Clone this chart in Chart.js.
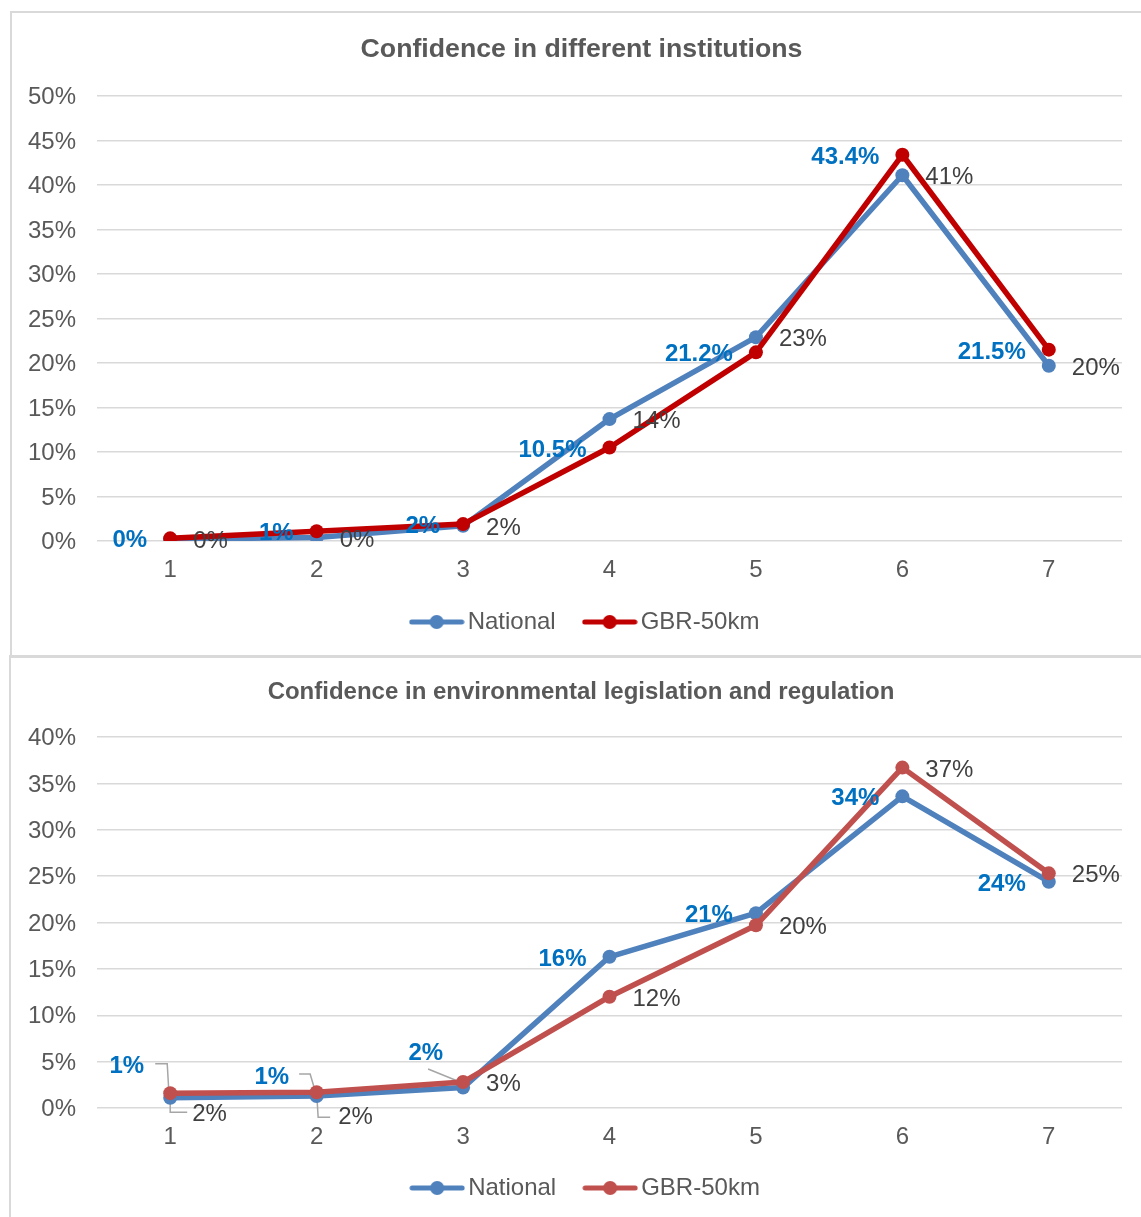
<!DOCTYPE html>
<html>
<head>
<meta charset="utf-8">
<script src="https://cdn.jsdelivr.net/npm/chart.js@4/dist/chart.umd.min.js"></script>
<style>
  html, body { margin: 0; padding: 0; background: #ffffff; }
  body { position: relative; width: 1141px; height: 1217px; overflow: hidden; }
  .frame { position: absolute; border: 2px solid #D9D9D9; box-sizing: border-box; }
  canvas { position: absolute; }
</style>
</head>
<body>
<div class="frame" style="left:10px; top:11px; width:1200px; height:647px;"></div>
<div class="frame" style="left:9px; top:655px; width:1200px; height:620px;"></div>
<canvas id="institutions" width="1145" height="644" style="left:11px; top:12px;"></canvas>
<canvas id="legislation" width="1146" height="566" style="left:10px; top:657px;"></canvas>
<script>
// ---- data ----
const categories = ['1', '2', '3', '4', '5', '6', '7'];
const seriesNames = ['National', 'GBR-50km'];

// Confidence in different institutions (% of respondents)
const institutionsNational = [0.2, 0.4, 1.7, 13.7, 22.9, 41.1, 19.7];
const institutionsGbr = [0.3, 1.1, 1.9, 10.5, 21.2, 43.4, 21.5];
const institutionsGbrDecimals = [0, 0, 0, 1, 1, 1, 1];
const institutionsAxis = { max: 50, step: 5 };

// Confidence in environmental legislation and regulation (% of respondents)
const legislationNational = [1.1, 1.3, 2.2, 16.3, 21.0, 33.6, 24.4];
const legislationGbr = [1.6, 1.7, 2.8, 12.0, 19.7, 36.7, 25.3];
const legislationAxis = { max: 40, step: 5 };

// ---- styling ----
const FONT = '"Liberation Sans", Arial, Helvetica, sans-serif';
const AXIS_TEXT = '#595959';
const GRID = '#D9D9D9';
const BLUE_LINE = '#4F81BD';
const LABEL_BLUE = '#0070C0';
const LABEL_GREY = '#404040';
const LEADER = '#A6A6A6';

function legendMarker(color) {
  const c = document.createElement('canvas');
  c.width = 56; c.height = 16;
  const g = c.getContext('2d');
  g.strokeStyle = color; g.lineWidth = 5; g.lineCap = 'round';
  g.beginPath(); g.moveTo(3, 8); g.lineTo(53, 8); g.stroke();
  g.fillStyle = color;
  g.beginPath(); g.arc(28, 8, 7, 0, Math.PI * 2); g.fill();
  return c;
}

// value labels next to each point, with optional leader lines
const pointLabels = {
  id: 'pointLabels',
  beforeDatasetsDraw(chart) {
    const ctx = chart.ctx;
    chart.data.datasets.forEach((ds, di) => {
      const st = ds.labelStyle;
      if (!st || !st.leaders) return;
      const meta = chart.getDatasetMeta(di);
      Object.keys(st.leaders).forEach(k => {
        const pt = meta.data[+k];
        const path = st.leaders[k];
        ctx.save();
        ctx.strokeStyle = LEADER;
        ctx.lineWidth = 1.5;
        ctx.beginPath();
        path.forEach((p, j) => {
          const x = pt.x + p[0], y = pt.y + p[1];
          if (j === 0) ctx.moveTo(x, y); else ctx.lineTo(x, y);
        });
        ctx.stroke();
        ctx.restore();
      });
    });
  },
  afterDatasetsDraw(chart) {
    const ctx = chart.ctx;
    chart.data.datasets.forEach((ds, di) => {
      const st = ds.labelStyle;
      if (!st) return;
      const meta = chart.getDatasetMeta(di);
      meta.data.forEach((pt, i) => {
        const v = ds.data[i];
        const dec = st.decimals ? st.decimals[i] : 0;
        const text = v.toFixed(dec) + '%';
        const off = (st.offsets && st.offsets[i]) || [0, 0];
        ctx.save();
        ctx.font = (st.bold ? 'bold ' : '') + '24px ' + FONT;
        ctx.fillStyle = st.color;
        ctx.textBaseline = 'middle';
        let x;
        if (st.side === 'left') { ctx.textAlign = 'right'; x = pt.x - 23 + off[0]; }
        else { ctx.textAlign = 'left'; x = pt.x + 23 + off[0]; }
        ctx.fillText(text, x, pt.y + 2.5 + off[1]);
        ctx.restore();
      });
    });
  }
};

// moves the title and legend blocks after layout so they sit over the plot
const blockNudge = {
  id: 'blockNudge',
  afterLayout(chart, args, opts) {
    const move = (box, d) => {
      if (!box || !d) return;
      box.left += d.dx || 0; box.right += d.dx || 0;
      box.top += d.dy || 0; box.bottom += d.dy || 0;
    };
    move(chart.titleBlock, opts.title);
    move(chart.legend, opts.legend);
  }
};

function lineDataset(label, data, color, order, labelStyle) {
  return {
    label, data, order,
    borderColor: color,
    backgroundColor: color,
    borderWidth: 5.5,
    borderJoinStyle: 'round',
    borderCapStyle: 'round',
    pointRadius: 7,
    pointHoverRadius: 7,
    pointBorderWidth: 0,
    pointBackgroundColor: color,
    tension: 0,
    fill: false,
    legendMarker: legendMarker(color),
    labelStyle
  };
}

function buildChart(id, cfg) {
  return new Chart(document.getElementById(id), {
    type: 'line',
    data: { labels: categories, datasets: cfg.datasets },
    plugins: [pointLabels, blockNudge],
    options: {
      responsive: false,
      animation: false,
      events: [],
      layout: { padding: { left: 0, right: 34, top: 0, bottom: cfg.bottomPad } },
      scales: {
        x: {
          offset: true,
          grid: { display: false, drawTicks: false },
          border: { display: false },
          ticks: { color: AXIS_TEXT, padding: 15, font: { size: 24, family: FONT } },
          afterFit(s) { s.height = cfg.xHeight; }
        },
        y: {
          min: 0,
          max: cfg.axis.max,
          grid: { color: GRID, lineWidth: 1.5, drawTicks: false },
          border: { display: false },
          ticks: {
            stepSize: cfg.axis.step,
            padding: 21,
            labelOffset: 1.5,
            color: AXIS_TEXT,
            font: { size: 24, family: FONT },
            callback: v => v + '%'
          },
          afterFit(s) { s.width = cfg.yWidth; }
        }
      },
      plugins: {
        tooltip: { enabled: false },
        blockNudge: cfg.nudge,
        title: {
          display: true,
          text: cfg.title,
          color: AXIS_TEXT,
          font: { size: cfg.titleSize, weight: 'bold', family: FONT, lineHeight: 1.2 },
          padding: cfg.titlePad
        },
        legend: {
          display: true,
          position: 'bottom',
          labels: {
            usePointStyle: true,
            pointStyleWidth: 38,
            boxHeight: 24,
            padding: 35,
            color: AXIS_TEXT,
            font: { size: 24, family: FONT },
            generateLabels(chart) {
              return chart.data.datasets.map((ds, i) => ({
                text: ds.label,
                pointStyle: ds.legendMarker,
                fillStyle: ds.borderColor,
                strokeStyle: ds.borderColor,
                lineWidth: 0,
                hidden: false,
                datasetIndex: i,
                fontColor: AXIS_TEXT
              }));
            }
          }
        }
      }
    }
  });
}

buildChart('institutions', {
  title: 'Confidence in different institutions',
  titleSize: 26.7,
  titlePad: { top: 21.5, bottom: 30.5 },
  axis: institutionsAxis,
  yWidth: 86,
  xHeight: 46,
  bottomPad: 0,
  nudge: { title: { dx: 15 }, legend: { dx: 22, dy: -12 } },
  datasets: [
    lineDataset(seriesNames[0], institutionsNational, BLUE_LINE, 1,
      { side: 'right', color: LABEL_GREY, bold: false }),
    lineDataset(seriesNames[1], institutionsGbr, '#C00000', 0,
      { side: 'left', color: LABEL_BLUE, bold: true, decimals: institutionsGbrDecimals })
  ]
});

buildChart('legislation', {
  title: 'Confidence in environmental legislation and regulation',
  titleSize: 24,
  titlePad: { top: 20.6, bottom: 30.6 },
  axis: legislationAxis,
  yWidth: 87,
  xHeight: 44,
  bottomPad: 2,
  nudge: { title: { dx: 15 }, legend: { dx: 23, dy: -11 } },
  datasets: [
    lineDataset(seriesNames[0], legislationNational, BLUE_LINE, 1, {
      side: 'left', color: LABEL_BLUE, bold: true,
      offsets: { 0: [-3, -33.5], 1: [-4.5, -21.5], 2: [3, -36.5] },
      leaders: {
        0: [[-15, -34], [-3, -34], [-1, 0]],
        1: [[-17.5, -22], [-6.5, -22], [0, 0]],
        2: [[-35, -18.6], [-3, -5.6]]
      }
    }),
    lineDataset(seriesNames[1], legislationGbr, '#C0504D', 0, {
      side: 'right', color: LABEL_GREY, bold: false,
      offsets: { 0: [-1, 18.5], 1: [-1.5, 22.5] },
      leaders: {
        0: [[0, 0], [0, 19], [17, 19]],
        1: [[0, 0], [1.5, 25], [13.5, 25]]
      }
    })
  ]
});
</script>
</body>
</html>
